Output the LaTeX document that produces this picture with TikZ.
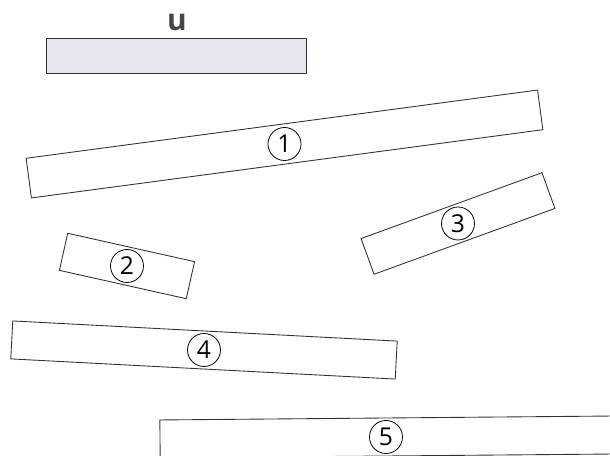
\documentclass[tikz,border=0pt]{standalone}
\usepackage{fontspec}
\setsansfont{Open Sans}
\usetikzlibrary{positioning}
\definecolor{barfill}{RGB}{231,229,238}
\definecolor{edgegray}{RGB}{50,50,50}
\definecolor{labelgray}{RGB}{70,70,70}

\begin{document}
\begin{tikzpicture}[font=\sffamily,
  bar/.style={draw=edgegray, line width=0.5pt, rectangle, inner sep=0pt, minimum height=0.76cm},
  num/.style={draw=black, line width=0.45pt, circle, inner sep=0pt, minimum size=0.66cm, font=\sffamily\fontsize{14}{14}\selectfont}]

% Page frame
\useasboundingbox (0,0) rectangle (12.2,9.12);
\clip (0,0) rectangle (12.2,9.12);

% Shaded reference bar with its label
\node[bar, fill=barfill, minimum width=5.2cm, minimum height=0.7cm] (baru) at (3.52,8.01) {};
\node[text=labelgray, font=\sffamily\bfseries\fontsize{17}{17}\selectfont] (labelu) at (3.54,8.68) {u};

% Tilted bars
\node[bar, minimum width=10.32cm, minimum height=0.8cm, rotate=7.6] (bar1) at (5.69,6.24) {};
\node[bar, minimum width=2.6cm, rotate=-12.6] (bar2) at (2.54,3.80) {};
\node[bar, minimum width=3.85cm, rotate=20] (bar3) at (9.16,4.65) {};
\node[bar, minimum width=7.7cm, rotate=-3] (bar4) at (4.08,2.12) {};
\node[bar, minimum width=9.04cm, rotate=0.5] (bar5) at (7.72,0.38) {};

% Numbers in the middle of each bar
\node[num] (num1) at (bar1.center) {1};
\node[num] (num2) at (bar2.center) {2};
\node[num] (num3) at (bar3.center) {3};
\node[num] (num4) at (bar4.center) {4};
\node[num] (num5) at (bar5.center) {5};

\end{tikzpicture}
\end{document}
